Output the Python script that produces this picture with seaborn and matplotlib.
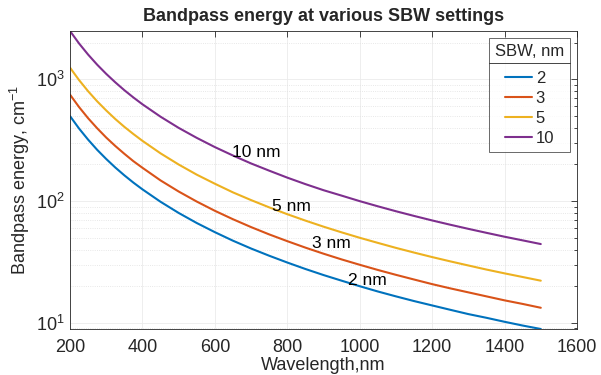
import numpy as np
import pandas as pd
import matplotlib
matplotlib.use('Agg')
import matplotlib.pyplot as plt
import seaborn as sns
from matplotlib.lines import Line2D
from matplotlib.ticker import LogLocator, NullFormatter

# wavelengths (nm) and bandpass energy (cm^-1)
wavelength = [200, 225, 250, 275, 300, 325, 350, 375, 400, 450, 500, 550, 600, 650, 700,
              750, 800, 850, 900, 950, 1000, 1050, 1100, 1150, 1200, 1250, 1300, 1350,
              1400, 1450, 1500]
sbw_2 = [500, 395, 320, 264, 222, 189, 163, 142, 125, 98.8, 80, 66.1, 55.6, 47.3, 40.8,
         35.6, 31.3, 27.7, 24.7, 22.2, 20, 18.1, 16.5, 15.1, 13.9, 12.8, 11.8, 11.0,
         10.2, 9.5, 8.9]
sbw_3 = [750, 593, 480, 397, 333, 284, 245, 213, 188, 148, 120, 99.2, 83.3, 71.0, 61.2,
         53.3, 46.9, 41.5, 37.0, 33.2, 30, 27.2, 24.8, 22.7, 20.8, 19.2, 17.8, 16.5,
         15.3, 14.3, 13.3]
sbw_5 = [1250, 988, 800, 661, 556, 473, 408, 356, 313, 247, 200, 165, 139, 118, 102,
         88.9, 78.1, 69.2, 61.7, 55.4, 50, 45.4, 41.3, 37.8, 34.7, 32.0, 29.6, 27.4,
         25.5, 23.8, 22.2]
sbw_10 = [2500, 1975, 1600, 1322, 1111, 947, 816, 711, 625, 494, 400, 331, 278, 237, 204,
          178, 156, 138, 123, 111, 100, 90.7, 82.6, 75.6, 69.4, 64.0, 59.2, 54.9,
          51.0, 47.6, 44.4]
series_names = ['2', '3', '5', '10']
label_text = ['2 nm', '3 nm', '5 nm', '10 nm']
label_x = [968, 868, 758, 647]
label_y = [22.4, 44.8, 91, 250]

colors = ['#0072BD', '#D95319', '#EDB120', '#7E2F8E']

df = pd.concat([
    pd.DataFrame({'wavelength': wavelength, 'energy': vals, 'SBW': name})
    for name, vals in zip(series_names, [sbw_2, sbw_3, sbw_5, sbw_10])
])

sns.set_style('white')
plt.rcParams['font.family'] = ['Liberation Sans', 'DejaVu Sans']
plt.rcParams['mathtext.fontset'] = 'custom'
plt.rcParams['mathtext.rm'] = 'Liberation Sans'
plt.rcParams['mathtext.default'] = 'regular'

fig = plt.figure(figsize=(6.01, 3.75), dpi=100)
ax = fig.add_axes([70 / 601, 1 - 329 / 375, 507 / 601, 298 / 375])

sns.lineplot(data=df, x='wavelength', y='energy', hue='SBW', palette=colors,
             linewidth=1.5, ax=ax)
ax.set_yscale('log')
ax.set_xlim(200, 1600)
ax.set_ylim(8.9, 2500)
ax.set_xticks(range(200, 1601, 200))
ax.yaxis.set_major_locator(LogLocator(base=10))
ax.yaxis.set_minor_locator(LogLocator(base=10, subs=np.arange(2, 10)))
ax.yaxis.set_minor_formatter(NullFormatter())

ax.grid(True, which='major', color='#ebebeb', linewidth=0.6)
ax.grid(True, which='minor', axis='y', color='#e0e0e0', linestyle=':', linewidth=0.6)
ax.set_axisbelow(True)
for s in ax.spines.values():
    s.set_color('#262626')
    s.set_linewidth(0.6)
ax.tick_params(which='both', direction='in', top=True, right=True,
               colors='#262626', labelsize=13, width=0.6)
ax.tick_params(axis='x', which='major', length=4, pad=7)
ax.tick_params(axis='y', which='major', length=4, pad=4)
ax.tick_params(which='minor', length=2)

for t, x, y in zip(label_text, label_x, label_y):
    ax.text(x, y, t, fontsize=12.5, va='center', ha='left', color='black')

ax.set_title('Bandpass energy at various SBW settings', fontsize=13,
             fontweight='bold', pad=7)
ax.set_xlabel('Wavelength,nm', fontsize=13, labelpad=1)
ax.set_ylabel('Bandpass energy, cm$^{-1}$', fontsize=13, labelpad=3)

handles = [Line2D([], [], color=c, linewidth=1.5) for c in colors]
leg = ax.legend(handles, series_names, title='SBW, nm', fontsize=12, title_fontsize=12,
                loc='upper right', bbox_to_anchor=(570 / 601, 1 - 38 / 375),
                bbox_transform=fig.transFigure, frameon=True, fancybox=False,
                edgecolor='#262626', handlelength=1.6, handletextpad=0.25,
                borderaxespad=0, borderpad=0.35, labelspacing=0.3)
leg.get_frame().set_linewidth(0.6)
leg._legend_box.sep = 9

# separator line between legend title and entries
fig.canvas.draw()
lb = leg.get_window_extent()
tb = leg.get_title().get_window_extent()
ysep = (tb.y0 - 4) / fig.bbox.height
fig.add_artist(Line2D([lb.x0 / fig.bbox.width, lb.x1 / fig.bbox.width], [ysep, ysep],
                      transform=fig.transFigure, color='#262626', linewidth=0.6))

fig.savefig('out.png', dpi=100)
